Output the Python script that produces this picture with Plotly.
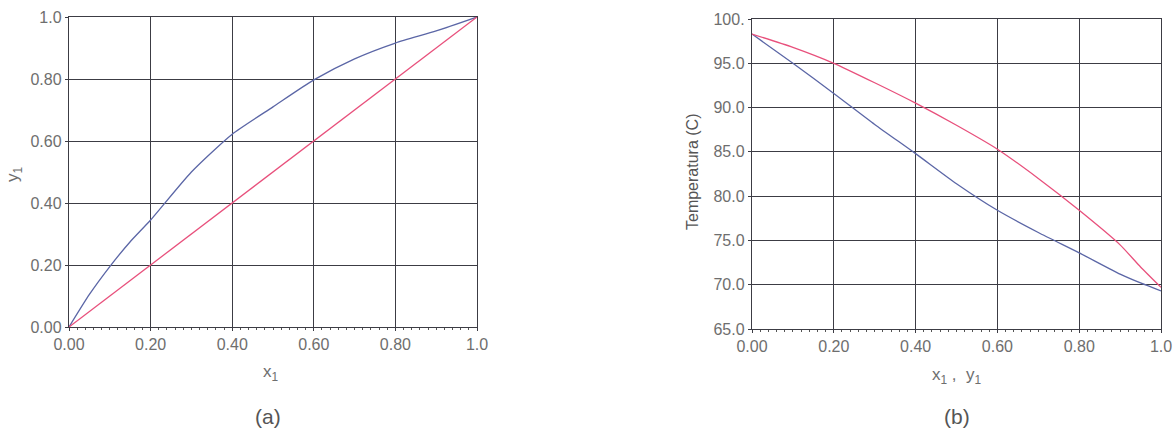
import plotly.graph_objects as go

# ---- data ----
# (a) y1 vs x1
xa = [0.0, 0.05, 0.10, 0.15, 0.20, 0.30, 0.40, 0.50, 0.60, 0.70, 0.80, 0.90, 1.0]
ya_eq = [0.0, 0.105, 0.195, 0.275, 0.345, 0.50, 0.622, 0.71, 0.797, 0.865, 0.916, 0.955, 1.0]
ya_diag = [0.0, 0.05, 0.10, 0.15, 0.20, 0.30, 0.40, 0.50, 0.60, 0.70, 0.80, 0.90, 1.0]

# (b) temperature vs x1, y1
xb = [0.0, 0.10, 0.20, 0.30, 0.40, 0.50, 0.60, 0.70, 0.80, 0.90, 0.95, 1.0]
t_red = [98.3, 96.8, 95.0, 92.8, 90.5, 88.0, 85.3, 82.0, 78.4, 74.5, 72.0, 69.7]
t_blue = [98.3, 95.0, 91.6, 88.1, 84.8, 81.4, 78.4, 75.9, 73.6, 71.2, 70.2, 69.3]

x_tickvals = [0.0, 0.2, 0.4, 0.6, 0.8, 1.0]
x_ticktext = ["0.00", "0.20", "0.40", "0.60", "0.80", "1.0"]
ya_tickvals = [0.0, 0.2, 0.4, 0.6, 0.8, 1.0]
ya_ticktext = ["0.00", "0.20", "0.40", "0.60", "0.80", "1.0"]
yb_tickvals = [65, 70, 75, 80, 85, 90, 95, 100]
yb_ticktext = ["65.0", "70.0", "75.0", "80.0", "85.0", "90.0", "95.0", "100."]

BLUE = "#5b66a6"
RED = "#e8507c"
GRID = "#3c3c44"
TICKC = "#6e6e6e"
FONT = "Liberation Sans"

fig = go.Figure()
line_kw = dict(width=1.3, shape="spline", smoothing=0.6)
fig.add_trace(go.Scatter(x=xa, y=ya_eq, mode="lines", line=dict(color=BLUE, **line_kw),
                         xaxis="x", yaxis="y", showlegend=False))
fig.add_trace(go.Scatter(x=xa, y=ya_diag, mode="lines", line=dict(color=RED, width=1.3),
                         xaxis="x", yaxis="y", showlegend=False))
fig.add_trace(go.Scatter(x=xb, y=t_blue, mode="lines", line=dict(color=BLUE, **line_kw),
                         xaxis="x2", yaxis="y2", showlegend=False))
fig.add_trace(go.Scatter(x=xb, y=t_red, mode="lines", line=dict(color=RED, **line_kw),
                         xaxis="x2", yaxis="y2", showlegend=False))

W, H = 1176, 440
tickfont = dict(family=FONT, size=16, color=TICKC)

def xaxis(domain, anchor):
    return dict(domain=domain, anchor=anchor, range=[0, 1], tickvals=x_tickvals, ticktext=x_ticktext,
                showgrid=True, gridcolor=GRID, gridwidth=1.4, zeroline=False,
                showline=True, linecolor=GRID, linewidth=1.4, mirror=True,
                ticks="outside", ticklen=3, tickcolor=GRID, tickfont=tickfont,
                minor=dict(dtick=0.02, ticks="outside", ticklen=2, tickcolor="#555555", showgrid=False),
                automargin=False, fixedrange=True)

def yaxis(domain, anchor, rng, tv, tt):
    return dict(domain=domain, anchor=anchor, range=rng, tickvals=tv, ticktext=tt,
                showgrid=True, gridcolor=GRID, gridwidth=1.4, zeroline=False,
                showline=True, linecolor=GRID, linewidth=1.4, mirror=True,
                ticks="outside", ticklen=3, tickcolor=GRID, tickfont=tickfont,
                automargin=False, fixedrange=True)

def label(text, x, y, size, color=TICKC, angle=0):
    return dict(text=text, x=x / W, y=1 - y / H, xref="paper", yref="paper",
                xanchor="center", yanchor="middle", showarrow=False, textangle=angle,
                font=dict(family=FONT, size=size, color=color))

fig.update_layout(
    width=W, height=H,
    margin=dict(l=0, r=0, t=0, b=0, autoexpand=False),
    paper_bgcolor="white", plot_bgcolor="white",
    xaxis=xaxis([69 / W, 477 / W], "y"),
    yaxis=yaxis([1 - 327 / H, 1 - 17 / H], "x", [0, 1], ya_tickvals, ya_ticktext),
    xaxis2=xaxis([752 / W, 1161 / W], "y2"),
    yaxis2=yaxis([1 - 329 / H, 1 - 19 / H], "x2", [65, 100], yb_tickvals, yb_ticktext),
    annotations=[
        label("x<sub>1</sub>", 271, 373, 17),
        label("y<sub>1</sub>", 14, 174, 17, angle=-90),
        label("(a)", 268, 416, 21, "#555555"),
        label("x<sub>1</sub> ,  y<sub>1</sub>", 957, 376, 17),
        label("Temperatura (C)", 693, 172, 16, "#555555", -90),
        label("(b)", 957, 416, 21, "#555555"),
    ],
)

fig.write_html("out.html")
